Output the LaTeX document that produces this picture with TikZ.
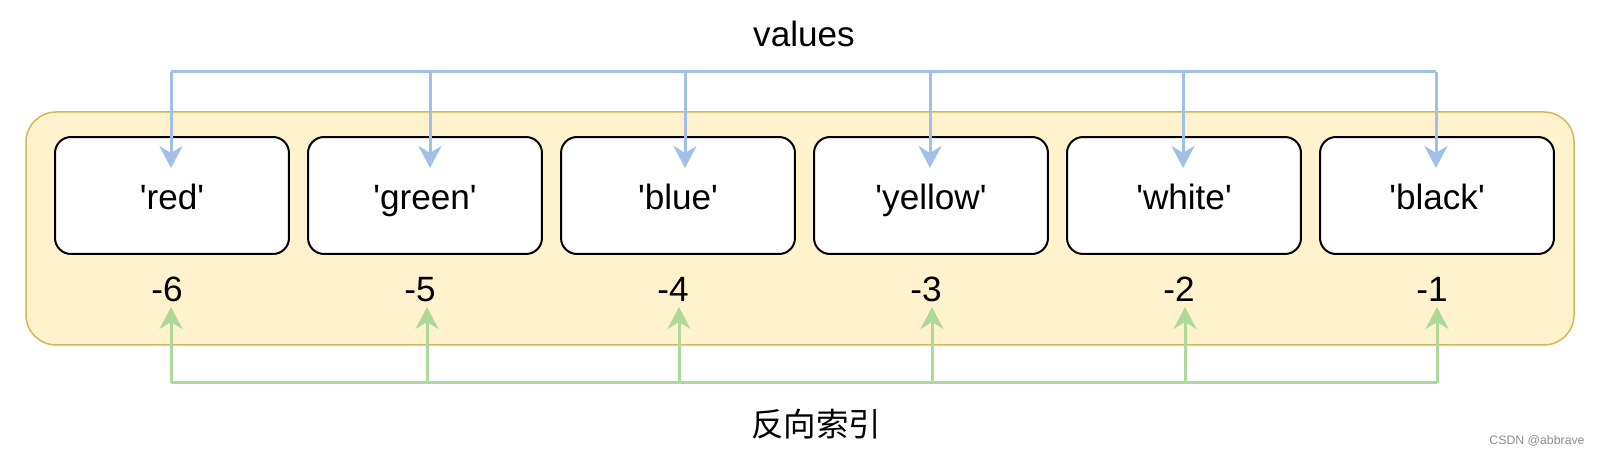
\documentclass[tikz,border=0pt]{standalone}
\usepackage{fontspec}
\setmainfont{Liberation Sans}
\newfontfamily\cjk{Noto Sans CJK SC}
\usetikzlibrary{arrows.meta}
\definecolor{bluel}{HTML}{A0C0E8}
\definecolor{greenl}{HTML}{ADDA98}
\definecolor{outerfill}{HTML}{FFF2CC}
\definecolor{outerdraw}{HTML}{D6B656}
\definecolor{wmgray}{HTML}{8C8C8C}
\newcommand{\sq}{\textquotesingle}
\begin{document}
\begin{tikzpicture}[x=0.02cm,y=-0.02cm,
  outerbox/.style={draw=outerdraw, fill=outerfill, line width=0.03cm, rounded corners=0.6cm},
  valbox/.style={draw=black, fill=white, line width=0.04cm, rounded corners=0.32cm,
    minimum width=4.68cm, minimum height=2.34cm, inner sep=0pt,
    text height=16.5pt, text depth=0pt, font=\fontsize{20}{24}\selectfont},
  idx/.style={inner sep=0pt, anchor=base, font=\fontsize{20}{24}\selectfont},
  lbl/.style={inner sep=0pt, anchor=base, font=\fontsize{20}{24}\selectfont},
  cjklbl/.style={inner sep=0pt, anchor=base, font=\cjk\fontsize{18.5}{22}\selectfont},
  wmark/.style={inner sep=0pt, anchor=base, text=wmgray, font=\fontsize{7}{8}\selectfont},
  bluebus/.style={draw=bluel, line width=0.06cm},
  greenbus/.style={draw=greenl, line width=0.06cm},
  bluearrow/.style={draw=bluel, line width=0.06cm, -{Stealth[length=0.44cm,width=0.46cm,inset=0.14cm,color=bluel]}},
  greenarrow/.style={draw=greenl, line width=0.06cm, -{Stealth[length=0.44cm,width=0.46cm,inset=0.14cm,color=greenl]}}
]
\useasboundingbox (0,0) rectangle (1599,455);
\draw[outerbox] (26,112) rectangle (1574,345);
% value boxes
\node[valbox] (b1) at (172,195.5) {\sq red\sq};
\node[valbox] (b2) at (425,195.5) {\sq green\sq};
\node[valbox] (b3) at (678,195.5) {\sq blue\sq};
\node[valbox] (b4) at (931,195.5) {\sq yellow\sq};
\node[valbox] (b5) at (1184,195.5) {\sq white\sq};
\node[valbox] (b6) at (1437,195.5) {\sq black\sq};
% indices
\node[idx] (n1) at (167,302) {-6};
\node[idx] (n2) at (420,302) {-5};
\node[idx] (n3) at (673,302) {-4};
\node[idx] (n4) at (926,302) {-3};
\node[idx] (n5) at (1179,302) {-2};
\node[idx] (n6) at (1432,302) {-1};
% labels
\node[lbl] (values) at (804,47) {values};
\node[cjklbl] (rev) at (816,437) {反向索引};
\node[wmark] (wm) at (1537,445) {CSDN @abbrave};
% blue connectors
\foreach \i/\x in {1/171,2/430,3/685,4/930,5/1183,6/1436}{
  \coordinate (bt\i) at (\x,72);
  \coordinate (bh\i) at (\x,168);
}
\draw[bluebus] (bt1) -- (bt6);
\foreach \i in {1,...,6}{
  \draw[bluearrow] (bt\i) -- (bh\i);
}
% green connectors
\foreach \i/\x in {1/171,2/427,3/679,4/932,5/1185,6/1437}{
  \coordinate (gb\i) at (\x,383);
  \coordinate (gh\i) at (\x,307);
}
\draw[greenbus] (gb1) -- (gb6);
\foreach \i in {1,...,6}{
  \draw[greenarrow] (gb\i) -- (gh\i);
}
\end{tikzpicture}
\end{document}
